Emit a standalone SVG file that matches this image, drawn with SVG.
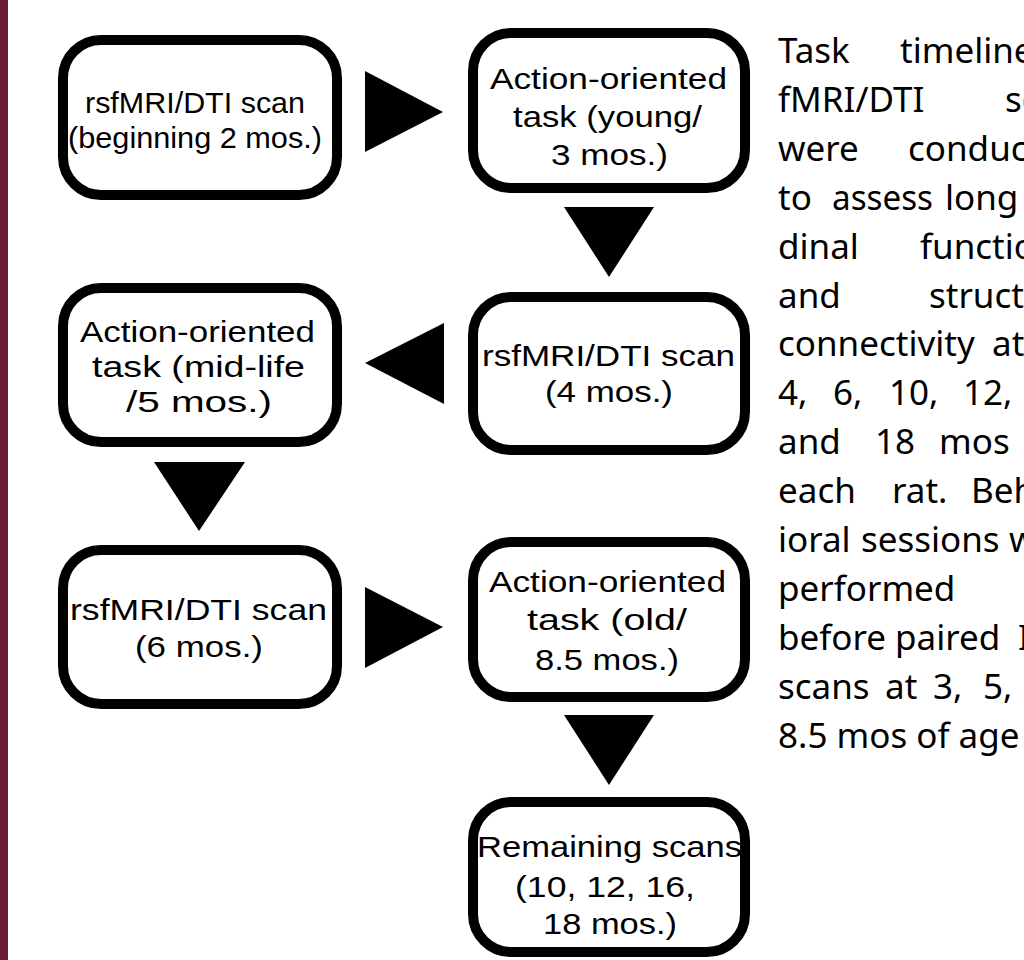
<svg xmlns="http://www.w3.org/2000/svg" width="1024" height="960" viewBox="0 0 1024 960">
<style>
.box{fill:#fff;stroke:#000;stroke-width:10}
.nt{font-family:"Liberation Sans",Arial,sans-serif;font-size:30px;fill:#000;text-anchor:middle}
.arr{fill:#000}
.para{font-family:"Noto Sans","Open Sans",sans-serif;font-size:35px;fill:#000}
</style>
<rect x="0" y="0" width="1024" height="960" fill="#fff"/>
<rect x="0" y="0" width="8" height="960" fill="#6b1a35"/>
<g id="connectors">
<polygon class="arr" points="365,71 365,152 443,112"/>
<polygon class="arr" points="564,207 654,207 609,277"/>
<polygon class="arr" points="444,323 444,404 365,363"/>
<polygon class="arr" points="154,462 245,462 199,531"/>
<polygon class="arr" points="365,587 365,668 443,627"/>
<polygon class="arr" points="564,715 654,715 609,785"/>
</g>
<g id="node-scan-2mos">
<rect class="box" x="63" y="40" width="274" height="155" rx="38"/>
<text class="nt" font-size="28" x="195" y="113" textLength="220" lengthAdjust="spacingAndGlyphs">rsfMRI/DTI scan</text>
<text class="nt" font-size="28" x="195" y="148" textLength="254" lengthAdjust="spacingAndGlyphs">(beginning 2 mos.)</text>
</g>
<g id="node-task-young">
<rect class="box" x="473" y="33" width="272" height="155" rx="38"/>
<text class="nt" x="608.5" y="89" textLength="237" lengthAdjust="spacingAndGlyphs">Action-oriented</text>
<text class="nt" x="607.5" y="127" textLength="189" lengthAdjust="spacingAndGlyphs">task (young/</text>
<text class="nt" x="609.5" y="165" textLength="117" lengthAdjust="spacingAndGlyphs">3 mos.)</text>
</g>
<g id="node-scan-4mos">
<rect class="box" x="473" y="297" width="272" height="153" rx="38"/>
<text class="nt" x="608.5" y="366" textLength="253" lengthAdjust="spacingAndGlyphs">rsfMRI/DTI scan</text>
<text class="nt" x="609" y="402" textLength="128" lengthAdjust="spacingAndGlyphs">(4 mos.)</text>
</g>
<g id="node-task-midlife">
<rect class="box" x="63" y="288" width="274" height="154" rx="38"/>
<text class="nt" x="197.5" y="342" textLength="235" lengthAdjust="spacingAndGlyphs">Action-oriented</text>
<text class="nt" x="198.5" y="377" textLength="213" lengthAdjust="spacingAndGlyphs">task (mid-life</text>
<text class="nt" x="199" y="412" textLength="146" lengthAdjust="spacingAndGlyphs">/5 mos.)</text>
</g>
<g id="node-scan-6mos">
<rect class="box" x="63" y="550" width="274" height="154" rx="38"/>
<text class="nt" x="198.5" y="620" textLength="257" lengthAdjust="spacingAndGlyphs">rsfMRI/DTI scan</text>
<text class="nt" x="199" y="657" textLength="128" lengthAdjust="spacingAndGlyphs">(6 mos.)</text>
</g>
<g id="node-task-old">
<rect class="box" x="473" y="542" width="272" height="155" rx="38"/>
<text class="nt" x="607.5" y="592" textLength="237" lengthAdjust="spacingAndGlyphs">Action-oriented</text>
<text class="nt" x="607" y="630" textLength="160" lengthAdjust="spacingAndGlyphs">task (old/</text>
<text class="nt" x="607" y="670" textLength="144" lengthAdjust="spacingAndGlyphs">8.5 mos.)</text>
</g>
<g id="node-remaining">
<rect class="box" x="473" y="802" width="272" height="150" rx="38"/>
<text class="nt" x="609.5" y="857" textLength="265" lengthAdjust="spacingAndGlyphs">Remaining scans</text>
<text class="nt" x="605" y="897" textLength="180" lengthAdjust="spacingAndGlyphs">(10, 12, 16,</text>
<text class="nt" x="610" y="934" textLength="134" lengthAdjust="spacingAndGlyphs">18 mos.)</text>
</g>
<g id="caption" class="para">
<text y="63"><tspan x="778">Task</tspan><tspan x="900">timeline</tspan></text>
<text y="112"><tspan x="778">fMRI/DTI</tspan><tspan x="1005">sc</tspan></text>
<text y="161"><tspan x="778">were</tspan><tspan x="908">conduc</tspan></text>
<text y="210"><tspan x="778">to</tspan></text>
<text y="210" x="832" textLength="101" lengthAdjust="spacingAndGlyphs">assess</text>
<text y="210" x="945">long</text>
<text y="259"><tspan x="778">dinal</tspan><tspan x="920">functio</tspan></text>
<text y="308"><tspan x="778">and</tspan><tspan x="929">struct</tspan></text>
<text y="356"><tspan x="778">connectivity</tspan><tspan x="992">at</tspan></text>
<text y="405"><tspan x="778">4,</tspan><tspan x="833">6,</tspan><tspan x="889">10,</tspan><tspan x="963">12,</tspan></text>
<text y="454"><tspan x="778">and</tspan><tspan x="875">18</tspan><tspan x="939">mos</tspan></text>
<text y="503"><tspan x="778">each</tspan><tspan x="892">rat.</tspan><tspan x="971">Beh</tspan></text>
<text y="552"><tspan x="778">ioral</tspan><tspan x="861">sessions</tspan><tspan x="1009">w</tspan></text>
<text y="601"><tspan x="778">performed</tspan></text>
<text y="650"><tspan x="778">before</tspan><tspan x="895">paired</tspan><tspan x="1018">I</tspan></text>
<text y="699"><tspan x="778">scans</tspan><tspan x="885">at</tspan><tspan x="933">3,</tspan><tspan x="983">5,</tspan></text>
<text y="748"><tspan x="778">8.5 mos of age</tspan></text>
</g>
</svg>
